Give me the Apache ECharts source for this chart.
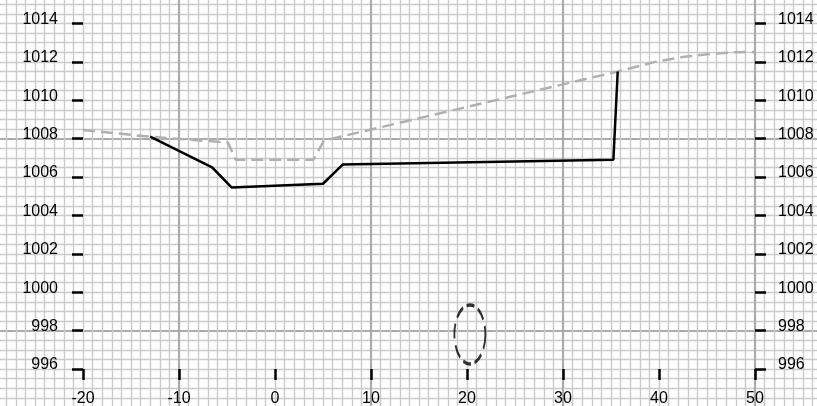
<!DOCTYPE html>
<html>
<head>
<meta charset="utf-8">
<script src="https://cdn.jsdelivr.net/npm/echarts@6/dist/echarts.min.js"></script>
<style>
  html, body { margin: 0; padding: 0; background: #fff; }
  #main { width: 817px; height: 406px; }
</style>
</head>
<body>
<div id="main"></div>
<script>
// tick labels
var xTicks = [-20, -10, 0, 10, 20, 30, 40, 50];
var yTicks = [996, 998, 1000, 1002, 1004, 1006, 1008, 1010, 1012, 1014];

// solid black line (x, hPa)
var blackLine = [
  [-13.0, 1008.1],
  [-6.55, 1006.5],
  [-4.5, 1005.45],
  [5.0, 1005.65],
  [7.05, 1006.65],
  [35.25, 1006.9],
  [35.7, 1011.5]
];

// grey dashed line
var greyLine = [
  [-20, 1008.45],
  [-13, 1008.1],
  [-9, 1007.95],
  [-4.9, 1007.8],
  [-4.1, 1006.9],
  [4.0, 1006.9],
  [5.1, 1007.9],
  [35.7, 1011.5],
  [39.6, 1012.0],
  [42.4, 1012.25],
  [45.0, 1012.4],
  [47.7, 1012.5],
  [50, 1012.52]
];

// dashed ellipse centre
var ellipse = [[20.3, 997.8]];

var myChart = echarts.init(document.getElementById("main"));
var labelFont = {
  fontFamily: "Liberation Sans, Arial, sans-serif",
  fontSize: 16,
  color: "#000",
  formatter: function (v) { return String(v); }
};

var option = {
  animation: false,
  backgroundColor: "#fff",
  grid: [
    // background paper grid, extends past the canvas
    { left: -13, right: -130, top: -53.26, bottom: -116.5, containLabel: false, outerBoundsMode: "none" },
    // axes frame
    { left: 83, right: 62, top: 23.5, bottom: 37, containLabel: false, outerBoundsMode: "none" }
  ],
  xAxis: [
    {
      gridIndex: 0, type: "value", min: -30, max: 70, interval: 20,
      axisLine: { show: false, onZero: false }, axisTick: { show: false }, axisLabel: { show: false },
      splitLine: { show: true, lineStyle: { color: "#ababab", width: 2.2 } },
      minorTick: { show: false, splitNumber: 20 },
      minorSplitLine: { show: true, lineStyle: { color: "#cacaca", width: 1.4 } }
    },
    {
      gridIndex: 1, type: "value", min: -20, max: 50, interval: 10,
      axisLine: { show: false, onZero: false },
      splitLine: { show: false },
      axisTick: { show: true, length: 11, lineStyle: { color: "#000", width: 2.5 } },
      axisLabel: Object.assign({ margin: 22 }, labelFont)
    }
  ],
  yAxis: [
    {
      gridIndex: 0, type: "value", min: 988, max: 1018, interval: 10,
      axisLine: { show: false, onZero: false }, axisTick: { show: false }, axisLabel: { show: false },
      splitLine: { show: true, lineStyle: { color: "#ababab", width: 2.2 } },
      minorTick: { show: false, splitNumber: 20 },
      minorSplitLine: { show: true, lineStyle: { color: "#cacaca", width: 1.4 } }
    },
    {
      gridIndex: 1, type: "value", position: "left", min: 996, max: 1014, interval: 2,
      axisLine: { show: false, onZero: false },
      splitLine: { show: false },
      axisTick: { show: true, length: 11, lineStyle: { color: "#000", width: 2.5 } },
      axisLabel: Object.assign({ margin: 25, verticalAlign: "bottom", lineHeight: 8 }, labelFont)
    },
    {
      gridIndex: 1, type: "value", position: "right", min: 996, max: 1014, interval: 2,
      axisLine: { show: false, onZero: false },
      splitLine: { show: false },
      axisTick: { show: true, length: 11, lineStyle: { color: "#000", width: 2.5 } },
      axisLabel: Object.assign({ margin: 23, verticalAlign: "bottom", lineHeight: 8 }, labelFont)
    }
  ],
  series: [
    {
      name: "grey",
      type: "line",
      xAxisIndex: 0, yAxisIndex: 0,
      data: greyLine,
      symbol: "none",
      z: 3,
      lineStyle: { color: "#b0b0b0", width: 2.5, type: [12, 6] }
    },
    {
      name: "black",
      type: "line",
      xAxisIndex: 0, yAxisIndex: 0,
      data: blackLine,
      symbol: "none",
      z: 4,
      lineStyle: { color: "#000", width: 2.5 }
    },
    {
      name: "ellipse",
      type: "scatter",
      xAxisIndex: 0, yAxisIndex: 0,
      data: ellipse,
      symbol: "circle",
      symbolSize: [31, 59],
      z: 4,
      itemStyle: { color: "rgba(0,0,0,0)", borderColor: "#000", borderWidth: 2.5, borderType: [11, 5] }
    }
  ]
};
if (option && typeof option === "object") {
  myChart.setOption(option);
}
</script>
</body>
</html>
